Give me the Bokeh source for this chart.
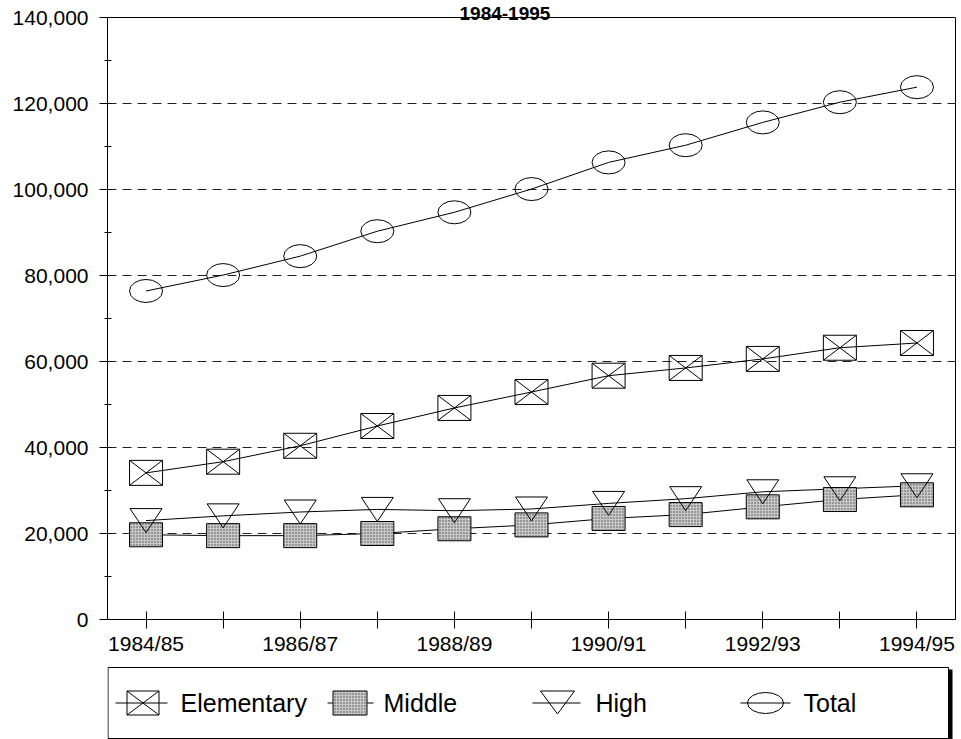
from bokeh.plotting import figure
from bokeh.layouts import column
from bokeh.models import (Range1d, FixedTicker, SingleIntervalTicker,
                          NumeralTickFormatter, Label)
from bokeh.embed import file_html
from bokeh.resources import INLINE

# ---------------- data ----------------
years = ["1984/85", "1985/86", "1986/87", "1987/88", "1988/89", "1989/90",
         "1990/91", "1991/92", "1992/93", "1993/94", "1994/95"]
elementary = [34100, 36700, 40400, 45000, 49200, 52900, 56700, 58500, 60600, 63200, 64300]
middle = [19700, 19500, 19500, 20000, 21100, 22000, 23500, 24400, 26200, 27900, 29000]
high = [23000, 24100, 25000, 25600, 25300, 25700, 27000, 28100, 29700, 30400, 31100]
total = [76400, 80100, 84500, 90300, 94700, 100100, 106300, 110300, 115600, 120300, 123800]
series_names = ["Elementary", "Middle", "High", "Total"]
title_text = "1984-1995"
y_max = 140000
y_step = 20000

# ---------------- layout constants ----------------
FONT = "Liberation Sans"
W = 958
B_LEFT, B_RIGHT, B_TOP, B_BOTTOM = 107, 3, 17, 43
FRAME_W = W - B_LEFT - B_RIGHT
FRAME_H = 602
MAIN_H = B_TOP + FRAME_H + B_BOTTOM
LEG_H = 77

xs = list(range(len(years)))
x_lo, x_hi = -0.5, len(years) - 0.5
px_x = (x_hi - x_lo) / FRAME_W      # x data units per pixel
px_y = y_max / FRAME_H              # y data units per pixel

p = figure(width=W, height=MAIN_H,
           x_range=Range1d(x_lo, x_hi), y_range=Range1d(0, y_max),
           output_backend="svg", toolbar_location=None,
           min_border_left=B_LEFT, min_border_right=B_RIGHT,
           min_border_top=B_TOP, min_border_bottom=B_BOTTOM)
p.background_fill_color = "white"
p.border_fill_color = "white"
p.outline_line_color = "black"
p.outline_line_width = 1

# title in the top border
p.title.text = title_text
p.title.text_font = FONT
p.title.text_font_style = "bold"
p.title.text_font_size = "19px"
p.title.text_color = "black"
p.title.align = "left"
p.title.offset = 352
p.title.standoff = -5

# axes
p.xaxis.ticker = FixedTicker(ticks=xs)
p.xaxis.major_label_overrides = {i: (years[i] if i % 2 == 0 else "") for i in xs}
p.xaxis.major_tick_in = 8
p.xaxis.major_tick_out = 9
p.xaxis.major_label_standoff = 3

p.yaxis.ticker = SingleIntervalTicker(interval=y_step, num_minor_ticks=2)
p.yaxis.formatter = NumeralTickFormatter(format="0,0")
p.yaxis.major_tick_in = 4
p.yaxis.major_tick_out = 8
p.yaxis.minor_tick_in = 4
p.yaxis.minor_tick_out = 3
p.yaxis.major_label_standoff = 11

for ax in (p.xaxis, p.yaxis):
    ax.axis_line_color = "black"
    ax.major_tick_line_color = "black"
    ax.major_label_text_font = FONT
    ax.major_label_text_font_size = "21px"
    ax.major_label_text_color = "black"
p.xaxis.minor_tick_line_color = None
p.yaxis.minor_tick_line_color = "black"

p.xgrid.grid_line_color = None
p.ygrid.grid_line_color = "#222222"
p.ygrid.grid_line_dash = "9 6"
p.ygrid.grid_line_width = 1

# connecting lines
for s in (total, elementary, high, middle):
    p.line(xs, s, line_color="black", line_width=1)

# Middle: stippled boxes
p.rect(xs, middle, width=33, height=24, width_units="screen", height_units="screen",
       fill_color="#c8c8c8", hatch_pattern=".", hatch_color="#4a4a4a", hatch_scale=3,
       line_color="black", line_width=1)

# Elementary: boxes with a cross
p.rect(xs, elementary, width=33, height=25, width_units="screen", height_units="screen",
       fill_color="white", fill_alpha=0, line_color="black", line_width=1)
hw = 16.5 * px_x
hh = 12.5 * px_y
p.segment(x0=[x - hw for x in xs], y0=[v - hh for v in elementary],
          x1=[x + hw for x in xs], y1=[v + hh for v in elementary],
          line_color="black", line_width=1)
p.segment(x0=[x - hw for x in xs], y0=[v + hh for v in elementary],
          x1=[x + hw for x in xs], y1=[v - hh for v in elementary],
          line_color="black", line_width=1)

# High: open inverted triangles
tw = 16 * px_x
th = 12 * px_y
p.patches(xs=[[x - tw, x + tw, x] for x in xs],
          ys=[[v + th, v + th, v - th] for v in high],
          fill_color=None, line_color="black", line_width=1)

# Total: open ellipses
p.ellipse(xs, total, width=33, height=23, width_units="screen", height_units="screen",
          fill_color=None, line_color="black", line_width=1)

# ---------------- legend (separate strip, pixel coordinates) ----------------
leg = figure(width=W, height=LEG_H, x_range=Range1d(B_LEFT, W - B_RIGHT),
             y_range=Range1d(LEG_H, 0),
             output_backend="svg", toolbar_location=None,
             min_border_left=B_LEFT, min_border_right=B_RIGHT,
             min_border_top=0, min_border_bottom=0)
leg.axis.visible = False
leg.grid.visible = False
leg.outline_line_color = None
leg.background_fill_color = "white"
leg.border_fill_color = "white"

leg.quad(left=[107.5], right=[948], top=[5], bottom=[76],
         fill_color="white", line_color="black", line_width=1)
leg.segment(x0=[950], y0=[7], x1=[950], y1=[77], line_color="black", line_width=4)

cy = 40.5
# Elementary
leg.segment(x0=[115], y0=[cy], x1=[167], y1=[cy], line_color="black")
leg.quad(left=[126.5], right=[158.5], top=[cy - 12], bottom=[cy + 12],
         fill_color=None, line_color="black")
leg.segment(x0=[126.5, 126.5], y0=[cy - 12, cy + 12], x1=[158.5, 158.5], y1=[cy + 12, cy - 12],
            line_color="black")
# Middle
leg.segment(x0=[327], y0=[cy], x1=[373], y1=[cy], line_color="black")
leg.quad(left=[332.5], right=[366.5], top=[cy - 12], bottom=[cy + 12],
         fill_color="#c8c8c8", hatch_pattern=".", hatch_color="#4a4a4a", hatch_scale=3,
         line_color="black")
# High
leg.segment(x0=[532], y0=[cy], x1=[580], y1=[cy], line_color="black")
leg.patches(xs=[[540, 574, 557]], ys=[[cy - 12, cy - 12, cy + 11]],
            fill_color=None, line_color="black")
# Total
leg.segment(x0=[740], y0=[cy], x1=[790], y1=[cy], line_color="black")
leg.ellipse(x=[765], y=[cy], width=36, height=21, fill_color=None, line_color="black")

for name, tx in zip(series_names, [180, 383, 595, 803]):
    leg.add_layout(Label(x=tx, y=cy, text=name, text_align="left", text_baseline="middle",
                         text_font=FONT, text_font_size="25px", text_color="black"))

layout = column(p, leg, spacing=0)

with open("out.html", "w") as f:
    f.write(file_html(layout, INLINE))
